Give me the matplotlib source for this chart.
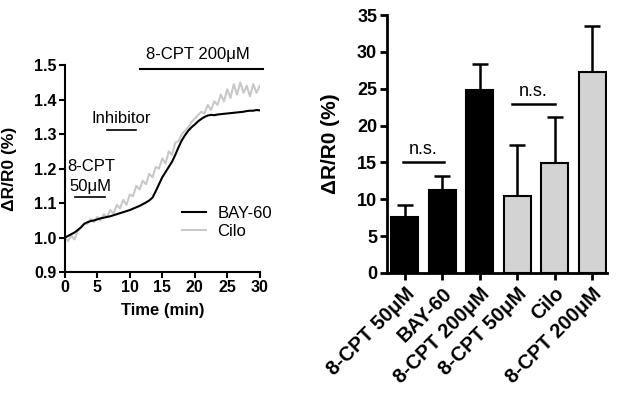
import numpy as np
import matplotlib.pyplot as plt

plt.rcParams['font.family'] = ['Liberation Sans', 'DejaVu Sans']

# ====== TIME COURSE DATA ======
t_min = np.arange(0, 30.01, 0.5)
bay60 = [1.000, 1.005, 1.010, 1.015, 1.022, 1.030, 1.040, 1.045, 1.048, 1.050,
         1.053, 1.056, 1.058, 1.060, 1.062, 1.065, 1.068, 1.071, 1.074, 1.077,
         1.080, 1.084, 1.088, 1.092, 1.097, 1.102, 1.108, 1.116, 1.135, 1.155,
         1.175, 1.190, 1.205, 1.220, 1.240, 1.262, 1.282, 1.297, 1.310, 1.320,
         1.328, 1.337, 1.344, 1.350, 1.354, 1.356, 1.355, 1.357, 1.358, 1.359,
         1.360, 1.361, 1.362, 1.363, 1.364, 1.365, 1.367, 1.368, 1.368, 1.370,
         1.369]
cilo = [1.000, 0.990, 1.005, 0.995, 1.020, 1.030, 1.042, 1.040, 1.055, 1.045,
        1.060, 1.050, 1.068, 1.060, 1.080, 1.070, 1.095, 1.085, 1.110, 1.095,
        1.125, 1.120, 1.150, 1.140, 1.165, 1.155, 1.185, 1.175, 1.205, 1.200,
        1.230, 1.215, 1.250, 1.240, 1.275, 1.280, 1.300, 1.310, 1.320, 1.335,
        1.345, 1.355, 1.365, 1.360, 1.385, 1.370, 1.395, 1.385, 1.415, 1.395,
        1.430, 1.405, 1.445, 1.415, 1.450, 1.420, 1.440, 1.410, 1.445, 1.420,
        1.440]

# ====== BAR DATA ======
bar_labels = ["8-CPT 50μM", "BAY-60", "8-CPT 200μM", "8-CPT 50μM", "Cilo", "8-CPT 200μM"]
bar_means = [7.6, 11.3, 24.8, 10.5, 14.9, 27.3]
bar_errs = [1.6, 1.9, 3.5, 6.9, 6.3, 6.2]
bar_colors = ['black', 'black', 'black', '#d3d3d3', '#d3d3d3', '#d3d3d3']

fig = plt.figure(figsize=(6.17, 3.95), dpi=100)

# ====== LEFT: TIME COURSE ======
ax1 = fig.add_axes([0.105, 0.311, 0.316, 0.524])
ax1.plot(t_min, bay60, color='black', lw=1.5, label='BAY-60', zorder=3)
ax1.plot(t_min, cilo, color='#c8c8c8', lw=1.5, label='Cilo', zorder=2)
ax1.set_xlim(0, 30)
ax1.set_ylim(0.9, 1.5)
ax1.set_xticks(range(0, 31, 5))
ax1.set_yticks([0.9, 1.0, 1.1, 1.2, 1.3, 1.4, 1.5])
ax1.set_yticklabels(["0.9", "1.0", "1.1", "1.2", "1.3", "1.4", "1.5"])
for s in ['top', 'right']:
    ax1.spines[s].set_visible(False)
for s in ['left', 'bottom']:
    ax1.spines[s].set_linewidth(1.5)
ax1.tick_params(width=1.5, length=4, labelsize=11.5, pad=2)
for lab in ax1.get_xticklabels() + ax1.get_yticklabels():
    lab.set_fontweight('bold')
ax1.set_xlabel("Time (min)", fontsize=12, fontweight='bold')
ax1.xaxis.set_label_coords(0.5, -0.15)
ax1.set_ylabel("ΔR/R0 (%)", fontsize=12.5, fontweight='bold')
ax1.yaxis.set_label_coords(-0.245, 0.5)

# stimulus bars and labels
ax1.plot([11.5, 30.5], [1.488, 1.488], color='black', lw=1.5, clip_on=False)
ax1.text(20.5, 1.53, "8-CPT 200μM", ha='center', va='center', fontsize=12)
ax1.plot([6.5, 11], [1.312, 1.312], color='black', lw=1.2, clip_on=False)
ax1.text(8.7, 1.346, "Inhibitor", ha='center', va='center', fontsize=12)
ax1.plot([1.5, 6.2], [1.117, 1.117], color='black', lw=1.2, clip_on=False)
ax1.text(4.0, 1.207, "8-CPT", ha='center', va='center', fontsize=12)
ax1.text(4.0, 1.149, "50μM", ha='center', va='center', fontsize=12)

ax1.legend(loc='upper left', bbox_to_anchor=(0.56, 0.36), frameon=False,
           fontsize=12, handlelength=1.4, handletextpad=0.7, labelspacing=0.2,
           borderpad=0)

# ====== RIGHT: BARS ======
ax2 = fig.add_axes([0.627, 0.309, 0.357, 0.653])
x = np.arange(len(bar_means))
ax2.bar(x, bar_means, width=0.72, color=bar_colors, edgecolor='black', lw=1.5, zorder=2)
ax2.errorbar(x, bar_means, yerr=[np.zeros(len(bar_errs)), bar_errs], fmt='none',
             ecolor='black', elinewidth=1.8, capsize=6, capthick=1.8, zorder=1)
ax2.set_xlim(-0.48, 5.4)
ax2.set_ylim(0, 35)
ax2.set_yticks(range(0, 36, 5))
ax2.set_xticks(x)
ax2.set_xticklabels(bar_labels, rotation=45, ha='right', rotation_mode='anchor')
for s in ['top', 'right']:
    ax2.spines[s].set_visible(False)
for s in ['left', 'bottom']:
    ax2.spines[s].set_linewidth(2)
ax2.tick_params(width=2, length=5, labelsize=13, pad=2)
ax2.tick_params(axis='x', labelsize=14.5, pad=3)
for lab in ax2.get_xticklabels() + ax2.get_yticklabels():
    lab.set_fontweight('bold')
ax2.set_ylabel("ΔR/R0 (%)", fontsize=15, fontweight='bold')
ax2.yaxis.set_label_coords(-0.215, 0.5)

# n.s. brackets
ax2.plot([-0.05, 1.05], [15.1, 15.1], color='black', lw=1.8)
ax2.text(0.5, 15.6, "n.s.", ha='center', va='bottom', fontsize=13)
ax2.plot([2.87, 4.0], [22.9, 22.9], color='black', lw=1.8)
ax2.text(3.43, 23.4, "n.s.", ha='center', va='bottom', fontsize=13)

fig.savefig("out.png", dpi=100)
